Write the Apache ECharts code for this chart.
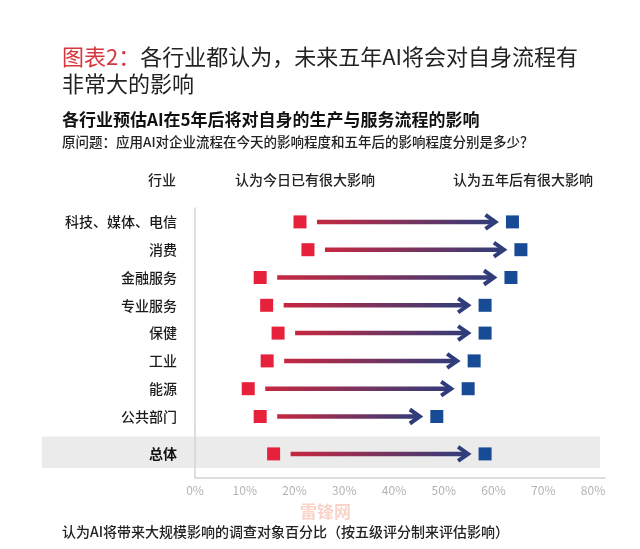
<!DOCTYPE html>
<html><head><meta charset="utf-8">
<script src="https://cdn.jsdelivr.net/npm/echarts@6/dist/echarts.min.js"></script>
<style>html,body{margin:0;padding:0;background:#fff}#c{width:640px;height:549px}</style>
</head><body><div id="c"></div>
<script>
// ---- data ----
const categories = ['科技、媒体、电信', '消费', '金融服务', '专业服务', '保健', '工业', '能源', '公共部门'];
const todayValues = [21.1, 22.7, 13.1, 14.4, 16.7, 14.5, 10.7, 13.1];
const futureValues = [63.8, 65.5, 63.5, 58.3, 58.3, 56.1, 54.9, 48.6];
const totalCategory = ['总体'];
const totalToday = [15.8];
const totalFuture = [58.3];
const xTickValues = [0, 10, 20, 30, 40, 50, 60, 70, 80];

// ---- style / layout ----
const FONT = '"Noto Sans CJK SC", "Noto Sans", sans-serif';
const RED = '#e5213b', BLUE = '#184b95';
const AXIS_MAX = 82.4;
const GAP_START = 17, GAP_END = 17;

const chart = echarts.init(document.getElementById('c'), null, {renderer: 'canvas'});

function renderArrow(params, api) {
  const a = api.coord([api.value(0), api.value(2)]);
  const b = api.coord([api.value(1), api.value(2)]);
  const x1 = a[0] + GAP_START, x2 = b[0] - GAP_END, y = a[1];
  const grad = new echarts.graphic.LinearGradient(x1, 0, x2, 0, [
    {offset: 0, color: '#c6283f'}, {offset: 1, color: '#2f3d7b'}
  ], true);
  return {
    type: 'group',
    children: [
      {type: 'line', shape: {x1: x1, y1: y, x2: x2 - 3, y2: y},
       style: {stroke: grad, lineWidth: 4.5, lineCap: 'butt'}},
      {type: 'polyline', shape: {points: [[x2 - 10, y - 7], [x2, y], [x2 - 10, y + 7]]},
       style: {stroke: '#2f3d7b', lineWidth: 4, fill: null, lineJoin: 'miter'}}
    ]
  };
}

const xAxisBase = {
  type: 'value', min: 0, max: AXIS_MAX, interval: 10,
  splitLine: {show: false}, axisTick: {show: false}
};
const squareStyle = c => ({color: c, opacity: 1});

const option = {
  animation: false,
  backgroundColor: '#fff',
  textStyle: {fontFamily: FONT},
  title: [
    {left: 57, top: 41, text: '{r|图表2：}{k|各行业都认为，未来五年AI将会对自身流程有}',
     textStyle: {fontWeight: 'normal', fontSize: 22, rich: {
       r: {color: '#d8363d', fontSize: 22, fontWeight: 'normal', fontFamily: FONT},
       k: {color: '#222', fontSize: 22, fontWeight: 'normal', fontFamily: FONT}
     }}},
    {left: 57, top: 68, text: '非常大的影响',
     textStyle: {color: '#222', fontSize: 22, fontWeight: 'normal', fontFamily: FONT}},
    {left: 57, top: 106, text: '各行业预估AI在5年后将对自身的生产与服务流程的影响',
     textStyle: {color: '#111', fontSize: 17, fontWeight: 'bold', fontFamily: FONT}},
    {left: 57, top: 130, text: '原问题：应用AI对企业流程在今天的影响程度和五年后的影响程度分别是多少？',
     textStyle: {color: '#222', fontSize: 13.5, fontWeight: 500, fontFamily: FONT}},
    {left: 57, top: 520, text: '认为AI将带来大规模影响的调查对象百分比（按五级评分制来评估影响）',
     textStyle: {color: '#222', fontSize: 14, fontWeight: 500, fontFamily: FONT}}
  ],
  graphic: [
    {type: 'rect', z: -10, shape: {x: 42, y: 436.5, width: 558, height: 31.5}, style: {fill: '#ebebeb'}},
    {type: 'text', x: 162, y: 180, style: {text: '行业', font: '500 14px ' + FONT, fill: '#222', textAlign: 'center', textVerticalAlign: 'middle'}},
    {type: 'text', x: 305, y: 180, style: {text: '认为今日已有很大影响', font: '500 14px ' + FONT, fill: '#222', textAlign: 'center', textVerticalAlign: 'middle'}},
    {type: 'text', x: 523, y: 180, style: {text: '认为五年后有很大影响', font: '500 14px ' + FONT, fill: '#222', textAlign: 'center', textVerticalAlign: 'middle'}},
    {type: 'text', x: 300, y: 512, z: 100, style: {text: '雷锋网', font: 'bold 17px ' + FONT, fill: 'rgba(235,110,70,0.30)', textAlign: 'left', textVerticalAlign: 'middle'}}
  ],
  grid: [
    {left: 195, right: 35, top: 208, height: 222.4},
    {left: 195, right: 35, top: 430.4, height: 47}
  ],
  xAxis: [
    Object.assign({}, xAxisBase, {gridIndex: 0, show: false}),
    Object.assign({}, xAxisBase, {
      gridIndex: 1,
      axisLine: {show: true, lineStyle: {color: '#d4d4d4', width: 1.5}},
      axisLabel: {color: '#b3b3b3', fontSize: 12, margin: 7, fontFamily: FONT, showMaxLabel: false,
        formatter: v => (xTickValues.indexOf(v) >= 0 ? v + '%' : '')}
    })
  ],
  yAxis: [
    {type: 'category', gridIndex: 0, data: categories, inverse: true,
     axisLine: {show: true, lineStyle: {color: '#d4d4d4', width: 1.5}}, axisTick: {show: false},
     axisLabel: {color: '#1a1a1a', fontSize: 14, fontWeight: 500, margin: 18, fontFamily: FONT}},
    {type: 'category', gridIndex: 1, data: totalCategory, inverse: true,
     axisLine: {show: true, lineStyle: {color: '#d4d4d4', width: 1.5}}, axisTick: {show: false},
     axisLabel: {color: '#111', fontSize: 14, fontWeight: 'bold', margin: 18, fontFamily: FONT}}
  ],
  series: [
    {type: 'custom', xAxisIndex: 0, yAxisIndex: 0, renderItem: renderArrow,
     encode: {x: [0, 1], y: 2},
     data: categories.map((c, i) => [todayValues[i], futureValues[i], i])},
    {type: 'custom', xAxisIndex: 1, yAxisIndex: 1, renderItem: renderArrow,
     encode: {x: [0, 1], y: 2},
     data: totalCategory.map((c, i) => [totalToday[i], totalFuture[i], i])},
    {type: 'scatter', xAxisIndex: 0, yAxisIndex: 0, symbol: 'rect', symbolSize: 13,
     itemStyle: squareStyle(RED), data: categories.map((c, i) => [todayValues[i], c])},
    {type: 'scatter', xAxisIndex: 0, yAxisIndex: 0, symbol: 'rect', symbolSize: 13,
     itemStyle: squareStyle(BLUE), data: categories.map((c, i) => [futureValues[i], c])},
    {type: 'scatter', xAxisIndex: 1, yAxisIndex: 1, symbol: 'rect', symbolSize: 13,
     itemStyle: squareStyle(RED), data: totalCategory.map((c, i) => [totalToday[i], c])},
    {type: 'scatter', xAxisIndex: 1, yAxisIndex: 1, symbol: 'rect', symbolSize: 13,
     itemStyle: squareStyle(BLUE), data: totalCategory.map((c, i) => [totalFuture[i], c])}
  ]
};
chart.setOption(option);
</script>
</body></html>
